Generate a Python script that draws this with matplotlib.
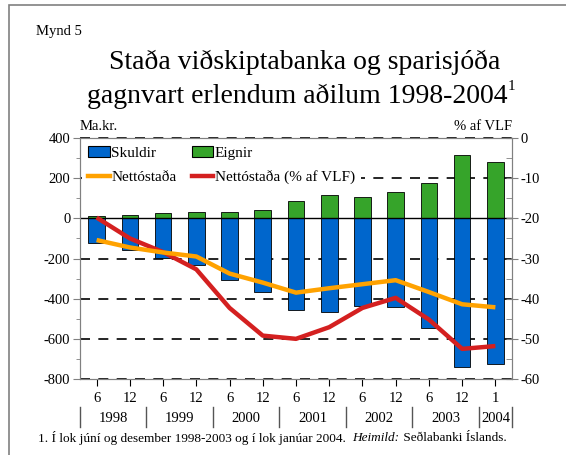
import numpy as np
import matplotlib
matplotlib.use("Agg")
import matplotlib.pyplot as plt
from matplotlib.patches import Rectangle, Patch
from matplotlib.lines import Line2D

plt.rcParams['font.family'] = ['Liberation Serif', 'DejaVu Serif']
plt.rcParams['axes.unicode_minus'] = False

# data (end of June / December, Jan 2004)
months = ["6", "12", "6", "12", "6", "12", "6", "12", "6", "12", "6", "12", "1"]
years = ["1998", "1999", "2000", "2001", "2002", "2003", "2004"]
eignir = [13, 15, 28, 31, 31, 41, 86, 116, 105, 130, 176, 313, 281]
skuldir = [-125, -158, -197, -230, -308, -367, -458, -468, -437, -440, -545, -740, -725]
netto = [-108, -145, -170, -190, -275, -320, -370, -348, -328, -308, -367, -428, -443]
netto_vlf = [-19.8, -25.0, -28.4, -32.7, -42.3, -49.2, -50.0, -47.1, -42.3, -39.8, -45.2, -52.5, -51.8]

BLUE = "#0066cc"
GREEN = "#36a42a"
ORANGE = "#ffa200"
RED = "#d42020"
GREY = "#808080"

fig = plt.figure(figsize=(5.66, 4.55), dpi=100)
ax = fig.add_axes([80 / 566, 1 - 379 / 455, 432 / 566, 241 / 455])
x = np.arange(len(months))

# outer frame (only left and top edges are visible in the crop)
fig.patches.append(Rectangle((9 / 566, -0.1), 2, (1 - 5 / 455) + 0.1,
                             transform=fig.transFigure, fill=False,
                             edgecolor=GREY, lw=1.2))

ax.bar(x, skuldir, width=0.5, color=BLUE, edgecolor="black", lw=0.6, zorder=3)
ax.bar(x, eignir, width=0.5, color=GREEN, edgecolor="black", lw=0.6, zorder=3)
ax.axhline(0, color="black", lw=1.0, zorder=4)
for g in [400, 200, -200, -400, -600, -800]:
    ax.axhline(g, color="black", lw=1.2, ls=(0, (6, 5)), zorder=1, clip_on=False)

ax.set_xlim(-0.5, 12.5)
ax.set_ylim(-800, 400)
ax.set_yticks(np.arange(-800, 401, 200))
ax.set_yticks(np.arange(-700, 400, 200), minor=True)
ax.set_yticklabels([str(v) for v in range(-800, 401, 200)])
ax.set_xticks(x)
ax.set_xticklabels(months)
for s in ax.spines.values():
    s.set_color(GREY)
ax.tick_params(axis="y", which="major", direction="out", length=5, color=GREY,
               labelsize=10.5, pad=2)
ax.tick_params(axis="y", which="minor", direction="out", length=3, color=GREY)
ax.tick_params(axis="x", direction="out", length=5, color="black",
               labelsize=10.5, pad=4)

ax2 = ax.twinx()
ax2.plot(x, netto_vlf, color=RED, lw=3.2, solid_capstyle="butt", zorder=5)
ax2.set_ylim(-60, 0)
ax2.set_yticks(np.arange(-60, 1, 10))
ax2.set_yticks(np.arange(-55, 0, 10), minor=True)
for s in ax2.spines.values():
    s.set_color(GREY)
ax2.tick_params(axis="y", which="major", direction="inout", length=8, color=GREY,
                labelsize=10.5, pad=2)
ax2.tick_params(axis="y", which="minor", direction="in", length=4, color=GREY)

ax3 = ax.twinx()
ax3.plot(x, netto, color=ORANGE, lw=3.2, solid_capstyle="butt")
ax3.set_ylim(ax.get_ylim())
ax3.axis("off")

handles = [Patch(facecolor=BLUE, edgecolor="black", lw=0.8),
           Line2D([], [], color=ORANGE, lw=3.2),
           Patch(facecolor=GREEN, edgecolor="black", lw=0.8),
           Line2D([], [], color=RED, lw=3.2)]
labels = ["Skuldir", "Nettóstaða", "Eignir", "Nettóstaða (% af VLF)"]
leg = ax3.legend(handles, labels, ncol=2, loc="upper left", frameon=True,
                 fontsize=11, handlelength=1.4, handletextpad=0.1,
                 columnspacing=1.0, borderaxespad=0.15, labelspacing=0.7,
                 bbox_to_anchor=(0.0, 1.0))
leg.get_frame().set_facecolor("white")
leg.get_frame().set_edgecolor("none")
leg.get_frame().set_alpha(1)

# year row under the month ticks
for i, yr in enumerate(years):
    xc = 2 * i + 0.5 if i < 6 else 12
    ax.text(xc, -0.165, yr, transform=ax.get_xaxis_transform(),
            ha="center", va="center", fontsize=10.5)
for b in [-0.5, 1.5, 3.5, 5.5, 7.5, 9.5, 11.5, 12.5]:
    ax.plot([b, b], [-0.115, -0.2], transform=ax.get_xaxis_transform(),
            color="#555555", lw=1.0, clip_on=False)

fig.text(80 / 566, 1 - 127 / 455, "Ma.kr.", ha="left", va="center", fontsize=10.5)
fig.text(512 / 566, 1 - 127 / 455, "% af VLF", ha="right", va="center", fontsize=10.5)
fig.text(36 / 566, 1 - 32 / 455, "Mynd 5", ha="left", va="center", fontsize=10.5)
fig.text(305 / 566, 1 - 62 / 455, "Staða viðskiptabanka og sparisjóða",
         ha="center", va="center", fontsize=20)
t1 = fig.text(297 / 566, 1 - 96 / 455, "gagnvart erlendum aðilum 1998-2004",
              ha="center", va="center", fontsize=20)
fig.canvas.draw()
bt = t1.get_window_extent()
fig.text(bt.x1 / fig.bbox.width, 1 - 87 / 455, "1",
         ha="left", va="center", fontsize=11)

foot_y = 1 - 438 / 455
t = fig.text(38 / 566, foot_y, "1. Í lok júní og desember 1998-2003 og í lok janúar 2004.  ",
             ha="left", va="center", fontsize=9.5)
fig.canvas.draw()
bb = t.get_window_extent()
t2 = fig.text(bb.x1 / fig.bbox.width, foot_y, "Heimild:", style="italic",
              ha="left", va="center", fontsize=9.5)
bb2 = t2.get_window_extent()
fig.text(bb2.x1 / fig.bbox.width, foot_y, " Seðlabanki Íslands.",
         ha="left", va="center", fontsize=9.5)

fig.savefig("out.png", dpi=100)
